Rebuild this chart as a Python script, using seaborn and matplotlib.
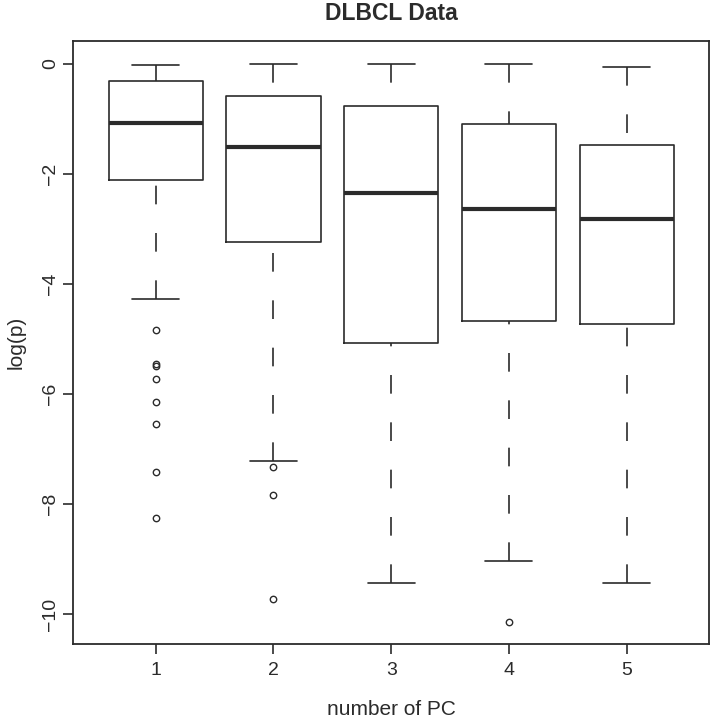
import matplotlib
matplotlib.use("Agg")
import matplotlib.pyplot as plt
import seaborn as sns

# boxplot statistics (log p per number of PCs)
pcs = [1, 2, 3, 4, 5]
whis_hi = [-0.02, 0.0, 0.0, 0.0, -0.06]
q3 = [-0.31, -0.58, -0.77, -1.09, -1.48]
medians = [-1.07, -1.51, -2.35, -2.65, -2.83]
q1 = [-2.11, -3.24, -5.08, -4.67, -4.73]
whis_lo = [-4.27, -7.21, -9.44, -9.03, -9.44]
outliers = [
    [-4.84, -5.45, -5.50, -5.73, -6.15, -6.55, -7.42, -8.25],
    [-7.33, -7.83, -9.73],
    [],
    [-10.14],
    [],
]

sns.set_theme(style="white")
plt.rcParams["font.family"] = ["Liberation Sans", "DejaVu Sans"]

ink = "#2b2b2b"
lw = 1.2

stats = []
for i, pc in enumerate(pcs):
    stats.append(dict(label=str(pc), med=medians[i], q1=q1[i], q3=q3[i],
                      whislo=whis_lo[i], whishi=whis_hi[i], fliers=outliers[i]))

fig = plt.figure(figsize=(7.1, 7.2), dpi=100)
ax = fig.add_axes([0.1033, 0.105, 0.8953, 0.838])

res = ax.bxp(stats, positions=pcs, widths=0.8, showfliers=True,
             boxprops=dict(color=ink, linewidth=lw),
             medianprops=dict(color=ink, linewidth=3.0, solid_capstyle="butt"),
             whiskerprops=dict(color=ink, linewidth=lw, linestyle=(0, (11.2, 17.2))),
             capprops=dict(color=ink, linewidth=lw),
             capwidths=0.4,
             flierprops=dict(marker="o", markersize=4.6, markerfacecolor="none",
                             markeredgecolor=ink, markeredgewidth=1.0, linestyle="none"))

# R draws whiskers from the whisker end toward the box, so the dash starts at the cap
for w in res["whiskers"]:
    xs, ys = w.get_xdata(), w.get_ydata()
    w.set_data(xs[::-1], ys[::-1])

ax.set_xlim(0.3, 5.7)
ax.set_ylim(-10.55, 0.41)
ax.set_xticks(pcs)
ax.set_xticklabels([str(p) for p in pcs])
ax.set_yticks([0, -2, -4, -6, -8, -10])
ax.set_yticklabels(["0", "\u22122", "\u22124", "\u22126", "\u22128", "\u221210"],
                   rotation=90, va="center")

for s in ax.spines.values():
    s.set_visible(True)
    s.set_color(ink)
    s.set_linewidth(1.3)

ax.tick_params(axis="both", direction="out", length=7, width=1.2, color=ink,
               labelsize=14, labelcolor=ink, left=True, bottom=True)
ax.tick_params(axis="x", pad=6)
ax.tick_params(axis="y", pad=3)

ax.set_title("DLBCL Data", fontsize=16.5, fontweight="bold", color=ink, pad=15)
ax.set_xlabel("number of PC", fontsize=15, color=ink, labelpad=15)
ax.set_ylabel("log(p)", fontsize=15, color=ink, labelpad=12)

fig.savefig("out.png", dpi=100)
